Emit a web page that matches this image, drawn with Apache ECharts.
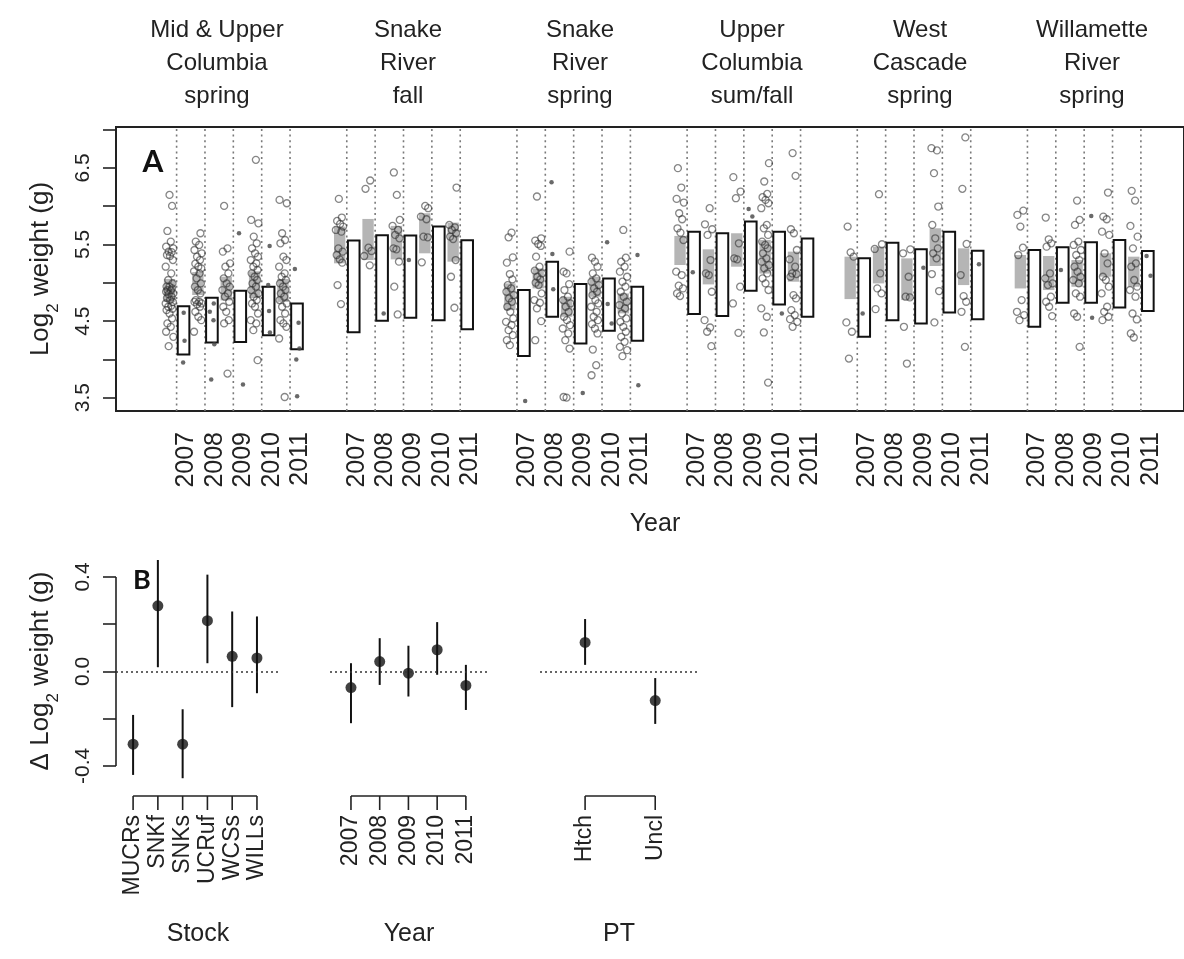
<!DOCTYPE html>
<html><head><meta charset="utf-8">
<script src="https://cdn.jsdelivr.net/npm/echarts@6/dist/echarts.min.js"></script>
<style>html,body{margin:0;padding:0;background:#fff}#c{width:1184px;height:959px}</style>
</head><body><div id="c"></div>
<script>
// ---------------- DATA ----------------
const years = ['2007','2008','2009','2010','2011'];
const stockTitles = ['Mid & Upper\nColumbia\nspring','Snake\nRiver\nfall','Snake\nRiver\nspring','Upper\nColumbia\nsum/fall','West\nCascade\nspring','Willamette\nRiver\nspring'];
const stockCodes = ['MUCRs','SNKf','SNKs','UCRuf','WCSs','WILLs'];
const ptCodes = ['Htch','Uncl'];

// Panel A: grey bars (hatchery) [lo, hi] per year
const hatchRangeMUCRs = [[4.75,5.05],[4.84,5.14],[4.77,5.08],[4.80,5.15],[4.75,5.05]];
const hatchRangeSNKf  = [[5.254,5.734],[5.297,5.834],[5.306,5.743],[5.385,5.908],[5.276,5.786]];
const hatchRangeSNKs  = [[4.643,4.992],[4.927,5.188],[4.556,4.818],[4.818,5.079],[4.60,4.861]];
const hatchRangeUCRuf = [[5.232,5.612],[4.979,5.437],[5.21,5.647],[5.12,5.56],[5.014,5.407]];
const hatchRangeWCSs  = [[4.787,5.341],[4.992,5.472],[4.774,5.319],[5.219,5.712],[4.97,5.45]];
const hatchRangeWILLs = [[4.926,5.363],[4.905,5.35],[4.948,5.297],[5.08,5.385],[4.948,5.341]];

// Panel A: white boxes (unclipped) [lo, hi] per year
const unclRangeMUCRs = [[4.063,4.695],[4.22,4.804],[4.228,4.895],[4.315,4.948],[4.132,4.73]];
const unclRangeSNKf  = [[4.355,5.551],[4.503,5.62],[4.543,5.616],[4.512,5.734],[4.394,5.555]];
const unclRangeSNKs  = [[4.045,4.905],[4.556,5.276],[4.207,4.984],[4.373,5.057],[4.242,4.948]];
const unclRangeUCRuf = [[4.591,5.668],[4.565,5.647],[4.896,5.799],[4.717,5.668],[4.556,5.577]];
const unclRangeWCSs  = [[4.294,5.319],[4.512,5.524],[4.469,5.437],[4.613,5.668],[4.525,5.42]];
const unclRangeWILLs = [[4.425,5.428],[4.739,5.463],[4.739,5.529],[4.678,5.559],[4.63,5.415]];

// Panel A: hatchery fish (open circles), log2 weight per year
const hatchPtsMUCRs = [
  [6.148,6.004,5.677,5.538,5.472,5.45,5.407,5.40,5.363,5.35,5.297,5.21,5.123,5.036,4.992,4.95,4.949,4.927,4.905,4.90,4.883,4.861,4.85,4.818,4.80,4.774,4.75,4.73,4.70,4.687,4.66,4.643,4.599,4.534,4.469,4.425,4.36,4.294,4.172],
  [5.647,5.538,5.494,5.428,5.385,5.341,5.297,5.25,5.21,5.189,5.15,5.123,5.058,4.992,4.949,4.905,4.861,4.774,4.752,4.75,4.73,4.72,4.687,4.621,4.556,4.512,4.36],
  [6.004,5.45,5.407,5.254,5.21,5.123,5.058,4.992,4.949,4.905,4.861,4.818,4.752,4.687,4.621,4.512,4.469,3.814],
  [6.606,5.821,5.777,5.603,5.516,5.45,5.385,5.341,5.297,5.254,5.21,5.167,5.123,5.079,5.036,4.992,4.949,4.905,4.861,4.818,4.774,4.73,4.687,4.599,4.512,4.469,4.381,3.989],
  [6.083,6.039,5.647,5.559,5.516,5.341,5.297,5.21,5.123,5.079,5.036,4.992,4.949,4.905,4.861,4.818,4.774,4.73,4.687,4.599,4.512,4.469,4.425,4.272,3.508]
];
const hatchPtsSNKf = [
  [6.096,5.852,5.808,5.769,5.734,5.69,5.668,5.45,5.407,5.363,5.306,5.263,4.97,4.722],
  [6.336,6.227,5.459,5.415,5.35,5.228],
  [6.441,6.148,5.821,5.743,5.69,5.625,5.581,5.45,5.437,5.276,4.949,4.586],
  [6.004,5.974,5.865,5.83,5.603,5.594,5.267],
  [6.244,5.756,5.725,5.69,5.647,5.603,5.572,5.297,5.079,4.674]
];
const hatchPtsSNKs = [
  [5.655,5.594,5.332,5.263,5.114,5.044,4.97,4.927,4.883,4.839,4.796,4.752,4.687,4.621,4.534,4.49,4.447,4.381,4.316,4.25,4.185],
  [6.127,5.581,5.551,5.507,5.481,5.341,5.21,5.158,5.123,5.079,5.044,5.001,4.97,4.861,4.774,4.739,4.665,4.499,4.25],
  [5.407,5.145,5.123,4.983,4.905,4.818,4.774,4.73,4.687,4.621,4.556,4.512,4.447,4.403,4.338,4.25,4.141,3.508,3.5],
  [5.328,5.276,5.21,5.123,5.058,5.014,4.97,4.927,4.883,4.839,4.774,4.73,4.687,4.621,4.556,4.512,4.46,4.403,4.338,4.128,3.923,3.792],
  [5.69,5.328,5.276,5.21,5.145,5.079,5.014,4.949,4.883,4.818,4.752,4.709,4.665,4.599,4.534,4.49,4.425,4.36,4.294,4.229,4.163,4.12,4.041]
];
const hatchPtsUCRuf = [
  [6.497,6.244,6.096,6.048,5.908,5.83,5.712,5.655,5.559,5.145,5.101,4.962,4.927,4.861,4.826],
  [5.974,5.764,5.699,5.625,5.297,5.123,5.101,4.883,4.512,4.416,4.36,4.172],
  [6.38,6.192,6.105,5.516,5.319,5.306,4.949,4.73,4.346],
  [6.563,6.323,6.161,6.118,6.083,6.039,5.974,5.756,5.712,5.625,5.538,5.494,5.45,5.385,5.319,5.276,5.232,5.189,5.123,5.058,4.992,4.905,4.665,4.556,4.351,3.696],
  [6.694,6.397,5.699,5.647,5.428,5.306,5.21,5.123,5.114,5.079,4.839,4.796,4.643,4.578,4.525,4.49,4.425]
];
const hatchPtsWCSs = [
  [5.734,5.398,5.341,4.482,4.36,4.01],
  [6.157,5.503,5.442,5.123,4.927,4.861,4.656],
  [5.437,5.385,5.079,4.818,4.809,4.425,3.945],
  [6.759,6.729,6.432,5.996,5.756,5.581,5.45,5.385,5.319,5.114,4.892,4.482],
  [6.899,6.227,5.507,5.101,4.826,4.752,4.621,4.163]
];
const hatchPtsWILLs = [
  [5.943,5.887,5.734,5.459,5.363,4.774,4.621,4.578,4.512],
  [5.852,5.568,5.516,5.472,5.123,5.058,4.992,4.97,4.818,4.752,4.687,4.565],
  [6.074,5.821,5.756,5.538,5.494,5.428,5.363,5.297,5.21,5.145,5.079,5.036,4.992,4.861,4.818,4.599,4.556,4.163],
  [6.179,5.865,5.83,5.668,5.625,5.385,5.254,5.079,5.036,4.949,4.861,4.687,4.621,4.556,4.512],
  [6.201,6.074,5.743,5.603,5.45,5.254,5.21,5.036,4.949,4.905,4.818,4.599,4.521,4.338,4.285]
];

// Panel A: unclipped fish (small filled dots)
const unclPtsMUCRs = [[4.608,4.242,3.958],[4.73,4.621,4.512,4.198,3.736],[5.647,3.67],[5.481,4.97,4.63,4.351],[5.18,4.477,4.141,3.997,3.517]];
const unclPtsSNKf  = [[],[4.599],[5.297],[],[]];
const unclPtsSNKs  = [[3.456],[6.314,5.376,4.914],[3.561],[5.529,4.722,4.469],[5.363,3.661]];
const unclPtsUCRuf = [[5.136],[],[5.965,5.865],[4.599],[]];
const unclPtsWCSs  = [[4.599],[],[5.197],[],[5.241]];
const unclPtsWILLs = [[],[5.167],[5.873,4.543],[],[5.35,5.092]];

// Panel B: [estimate, lower, upper]
const effStock = [[-0.308,-0.438,-0.184],[0.278,0.018,0.50],[-0.308,-0.452,-0.16],[0.215,0.035,0.41],[0.064,-0.151,0.254],[0.057,-0.092,0.233]];
const effYear  = [[-0.068,-0.219,0.035],[0.042,-0.057,0.141],[-0.007,-0.106,0.109],[0.092,-0.014,0.209],[-0.059,-0.163,0.028]];
const effPT    = [[0.123,0.028,0.222],[-0.123,-0.222,-0.028]];

const yTicksA = [3.5,4.0,4.5,5.0,5.5,6.0,6.5,7.0];
const yLabelsA = [3.5,4.5,5.5,6.5];
const yTicksB = [-0.4,-0.2,0,0.2,0.4];
const yLabelsB = [-0.4,0,0.4];

// ---------------- LAYOUT ----------------
const FONT = 'Liberation Sans, Arial, Helvetica, sans-serif';
const INK = '#222';
const A_XMIN = -2.137, A_XMAX = 35.52, A_YMIN = 3.325, A_YMAX = 7.035;
const B_YMIN = -0.468, B_YMAX = 0.472;
const B1 = {min:0.31, max:6.93}, B2 = {min:2006.27, max:2011.77}, B3 = {min:0.357, max:2.61};
const JIT = [0,0.6,-0.5,0.3,-0.8,0.9,-0.2,0.5,-0.6,0.1,0.8,-0.9,0.4,-0.3,0.7,-0.7];

const hatchRanges = [hatchRangeMUCRs,hatchRangeSNKf,hatchRangeSNKs,hatchRangeUCRuf,hatchRangeWCSs,hatchRangeWILLs];
const unclRanges = [unclRangeMUCRs,unclRangeSNKf,unclRangeSNKs,unclRangeUCRuf,unclRangeWCSs,unclRangeWILLs];
const hatchPts = [hatchPtsMUCRs,hatchPtsSNKf,hatchPtsSNKs,hatchPtsUCRuf,hatchPtsWCSs,hatchPtsWILLs];
const unclPts = [unclPtsMUCRs,unclPtsSNKf,unclPtsSNKs,unclPtsUCRuf,unclPtsWCSs,unclPtsWILLs];

const lineData=[], grayData=[], boxData=[], circData=[], dotData=[], labelSlots=[];
for (let g=0; g<6; g++) {
  for (let y=0; y<5; y++) {
    const s = g*6 + y;
    lineData.push([s, 5]);
    grayData.push([s, hatchRanges[g][y][0], hatchRanges[g][y][1]]);
    boxData.push([s, unclRanges[g][y][0], unclRanges[g][y][1]]);
    hatchPts[g][y].forEach((v,i)=>circData.push([s - 0.25 + JIT[(i+s)%JIT.length]*0.15, v]));
    unclPts[g][y].forEach((v,i)=>dotData.push([s + 0.25 + JIT[(i*3+s)%JIT.length]*0.1, v]));
    labelSlots.push(s + 0.35);
  }
}

function vline(params, api) {
  const x = api.value(0);
  const p1 = api.coord([x, A_YMIN]), p2 = api.coord([x, A_YMAX]);
  return {type:'line', shape:{x1:p1[0],y1:p1[1],x2:p2[0],y2:p2[1]}, style:{stroke:'#7a7a7a', lineWidth:1.6, lineDash:[2,3.6]}};
}
function rectMaker(dx0, dx1, fill, stroke) {
  return function(params, api) {
    const x = api.value(0), lo = api.value(1), hi = api.value(2);
    const a = api.coord([x+dx0, hi]), b = api.coord([x+dx1, lo]);
    return {type:'rect', shape:{x:a[0], y:a[1], width:b[0]-a[0], height:b[1]-a[1]},
            style:{fill:fill, stroke:stroke||null, lineWidth:stroke?2:0}};
  };
}
function whisker(params, api) {
  const x = api.value(0);
  const a = api.coord([x, api.value(1)]), b = api.coord([x, api.value(2)]);
  return {type:'line', shape:{x1:a[0],y1:a[1],x2:b[0],y2:b[1]}, style:{stroke:'#111', lineWidth:2}};
}
function bracket(ticks) {
  return function(params, api) {
    const base = api.coord([ticks[0], B_YMIN]);
    const y0 = base[1] + 14;
    const xe = api.coord([ticks[ticks.length-1], B_YMIN])[0];
    const ch = [{type:'line', shape:{x1:base[0],y1:y0,x2:xe,y2:y0}, style:{stroke:INK,lineWidth:1.6}}];
    ticks.forEach(t=>{ const x = api.coord([t, B_YMIN])[0];
      ch.push({type:'line', shape:{x1:x,y1:y0,x2:x,y2:y0+14}, style:{stroke:INK,lineWidth:1.6}}); });
    return {type:'group', children:ch};
  };
}
function yAxisLineB(params, api) {
  const a = api.coord([B1.min, -0.4]), b = api.coord([B1.min, 0.4]);
  return {type:'line', shape:{x1:a[0],y1:a[1],x2:b[0],y2:b[1]}, style:{stroke:INK,lineWidth:1.6}};
}

const stockX = stockCodes.map((c,i)=>i+1);
const yearX = years.map(y=>+y);
const ptX = ptCodes.map((c,i)=>i+1);

const zeroLine = {silent:true, symbol:'none', label:{show:false},
  lineStyle:{type:[2,3], color:'#333', width:1.6}, data:[{yAxis:0}]};

const txt = {fontFamily:FONT, color:INK};
const noLine = {show:false, onZero:false};

const option = {
  animation:false,
  backgroundColor:'#fff',
  grid:[
    {left:116, top:127, width:1075, height:284, show:true, borderColor:INK, borderWidth:2, backgroundColor:'transparent'},
    {left:116, top:560, width:164, height:222},
    {left:330, top:560, width:158, height:222},
    {left:540, top:560, width:158, height:222}
  ],
  xAxis:[
    {gridIndex:0, type:'value', min:A_XMIN, max:A_XMAX, axisLine:noLine, axisTick:{show:false}, splitLine:{show:false},
     axisLabel:{customValues:labelSlots, rotate:90, margin:21, fontSize:25, ...txt,
       formatter:(v)=>{ const i = labelSlots.findIndex(s=>Math.abs(s-v)<1e-6); return i<0?'':years[i%5]; }}},
    {gridIndex:1, type:'value', min:B1.min, max:B1.max, axisLine:noLine, axisTick:{show:false}, splitLine:{show:false},
     axisLabel:{customValues:stockX, rotate:90, margin:33, fontSize:23, ...txt, formatter:(v)=>stockCodes[Math.round(v)-1]||''},
     name:'Stock', nameLocation:'middle', nameGap:140, nameTextStyle:{fontSize:25, ...txt}},
    {gridIndex:2, type:'value', min:B2.min, max:B2.max, axisLine:noLine, axisTick:{show:false}, splitLine:{show:false},
     axisLabel:{customValues:yearX, rotate:90, margin:33, fontSize:23, ...txt, formatter:(v)=>String(Math.round(v))},
     name:'Year', nameLocation:'middle', nameGap:140, nameTextStyle:{fontSize:25, ...txt}},
    {gridIndex:3, type:'value', min:B3.min, max:B3.max, axisLine:noLine, axisTick:{show:false}, splitLine:{show:false},
     axisLabel:{customValues:ptX, rotate:90, margin:33, fontSize:23, ...txt, formatter:(v)=>ptCodes[Math.round(v)-1]||''},
     name:'PT', nameLocation:'middle', nameGap:140, nameTextStyle:{fontSize:25, ...txt}}
  ],
  yAxis:[
    {gridIndex:0, type:'value', min:A_YMIN, max:A_YMAX, axisLine:noLine, splitLine:{show:false},
     axisTick:{show:true, customValues:yTicksA, length:13, lineStyle:{color:INK, width:1.6}},
     axisLabel:{customValues:yLabelsA, rotate:90, margin:22, fontSize:21, ...txt, formatter:(v)=>v.toFixed(1)},
     name:'{a|Log}{s|2}{a| weight (g)}', nameLocation:'middle', nameRotate:90, nameGap:62,
     nameTextStyle:{rich:{a:{fontSize:26, fontFamily:FONT, color:INK}, s:{fontSize:17, fontFamily:FONT, color:INK, verticalAlign:'bottom', padding:[0,0,-8,0]}}}},
    {gridIndex:1, type:'value', min:B_YMIN, max:B_YMAX, axisLine:noLine, splitLine:{show:false},
     axisTick:{show:true, customValues:yTicksB, length:13, lineStyle:{color:INK, width:1.6}},
     axisLabel:{customValues:yLabelsB, rotate:90, margin:22, fontSize:21, ...txt, formatter:(v)=>v.toFixed(1)},
     name:'{a|\u0394 Log}{s|2}{a| weight (g)}', nameLocation:'middle', nameRotate:90, nameGap:62,
     nameTextStyle:{rich:{a:{fontSize:26, fontFamily:FONT, color:INK}, s:{fontSize:17, fontFamily:FONT, color:INK, verticalAlign:'bottom', padding:[0,0,-8,0]}}}},
    {gridIndex:2, type:'value', min:B_YMIN, max:B_YMAX, show:false},
    {gridIndex:3, type:'value', min:B_YMIN, max:B_YMAX, show:false}
  ],
  series:[
    {type:'custom', xAxisIndex:0, yAxisIndex:0, data:lineData, renderItem:vline, silent:true, z:1},
    {type:'custom', xAxisIndex:0, yAxisIndex:0, data:grayData, renderItem:rectMaker(-0.45,-0.05,'#b5b5b5',null), silent:true, z:2},
    {type:'scatter', xAxisIndex:0, yAxisIndex:0, data:circData, symbol:'circle', symbolSize:7, silent:true, z:3,
     itemStyle:{color:'rgba(0,0,0,0)', borderColor:'rgba(45,45,45,0.72)', borderWidth:1.3}},
    {type:'custom', xAxisIndex:0, yAxisIndex:0, data:boxData, renderItem:rectMaker(0.04,0.45,'#ffffff','#111'), silent:true, z:4},
    {type:'scatter', xAxisIndex:0, yAxisIndex:0, data:dotData, symbol:'circle', symbolSize:4.5, silent:true, z:5,
     itemStyle:{color:'#444'}},

    {type:'custom', xAxisIndex:1, yAxisIndex:1, data:[[B1.min,0]], renderItem:yAxisLineB, silent:true},
    {type:'custom', xAxisIndex:1, yAxisIndex:1, data:[[1,0]], renderItem:bracket(stockX), silent:true},
    {type:'custom', xAxisIndex:2, yAxisIndex:2, data:[[2007,0]], renderItem:bracket(yearX), silent:true},
    {type:'custom', xAxisIndex:3, yAxisIndex:3, data:[[1,0]], renderItem:bracket(ptX), silent:true},

    {type:'custom', xAxisIndex:1, yAxisIndex:1, clip:true, data:effStock.map((e,i)=>[stockX[i],e[1],e[2]]), renderItem:whisker, silent:true},
    {type:'custom', xAxisIndex:2, yAxisIndex:2, clip:true, data:effYear.map((e,i)=>[yearX[i],e[1],e[2]]), renderItem:whisker, silent:true},
    {type:'custom', xAxisIndex:3, yAxisIndex:3, clip:true, data:effPT.map((e,i)=>[ptX[i],e[1],e[2]]), renderItem:whisker, silent:true},
    {type:'scatter', xAxisIndex:1, yAxisIndex:1, data:effStock.map((e,i)=>[stockX[i],e[0]]), symbolSize:11, itemStyle:{color:'#111'}, silent:true, markLine:zeroLine},
    {type:'scatter', xAxisIndex:2, yAxisIndex:2, data:effYear.map((e,i)=>[yearX[i],e[0]]), symbolSize:11, itemStyle:{color:'#111'}, silent:true, markLine:zeroLine},
    {type:'scatter', xAxisIndex:3, yAxisIndex:3, data:effPT.map((e,i)=>[ptX[i],e[0]]), symbolSize:11, itemStyle:{color:'#111'}, silent:true, markLine:zeroLine}
  ],
  graphic:[]
};

const chart = echarts.init(document.getElementById('c'));
chart.setOption(option);

// titles above each stock group, the "Year" axis title and panel letters
const titleX = [217, 408, 580, 752, 920, 1092];
const g = stockTitles.map((t,i)=>({type:'text', x:titleX[i], y:14, style:{text:t, font:'24px ' + FONT, fill:INK, textAlign:'center', textVerticalAlign:'top', lineHeight:33}}));
g.push({type:'text', x:655, y:512, style:{text:'Year', font:'25px ' + FONT, fill:INK, textAlign:'center', textVerticalAlign:'top'}});
g.push({type:'text', x:153, y:162, style:{text:'A', font:'bold 30px Lato, "DejaVu Sans", sans-serif', fill:'#111', textAlign:'center', textVerticalAlign:'middle'}});
g.push({type:'text', x:142, y:580, style:{text:'B', font:'bold 27px Lato, "DejaVu Sans", sans-serif', fill:'#111', textAlign:'center', textVerticalAlign:'middle'}});
chart.setOption({graphic:g});
</script></body></html>
